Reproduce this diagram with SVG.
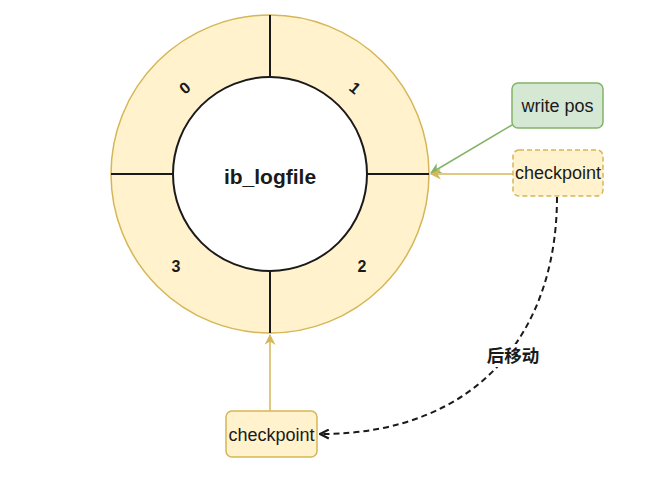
<svg xmlns="http://www.w3.org/2000/svg" width="655" height="484" viewBox="0 0 655 484">
<style>
.lbl{font-family:"Liberation Sans",Arial,sans-serif;font-size:18px;fill:#1a1a1a;text-anchor:middle;dominant-baseline:central}
.num{font-family:"Liberation Sans",Arial,sans-serif;font-size:16px;font-weight:bold;fill:#1a1a1a;text-anchor:middle;dominant-baseline:central}
.div{stroke:#1a1a1a;stroke-width:2;fill:none}
</style>
<defs>
<marker id="ay" viewBox="0 0 10 10" refX="9" refY="5" markerWidth="11" markerHeight="11" markerUnits="userSpaceOnUse" orient="auto"><path d="M0,0 L10,5 L0,10 L3,5 Z" fill="#d6b656"/></marker>
<marker id="ag" viewBox="0 0 10 10" refX="9" refY="5" markerWidth="11" markerHeight="11" markerUnits="userSpaceOnUse" orient="auto"><path d="M0,0 L10,5 L0,10 L3,5 Z" fill="#82b366"/></marker>
<marker id="ak" viewBox="0 0 10 10" refX="9" refY="5" markerWidth="11" markerHeight="11" markerUnits="userSpaceOnUse" orient="auto"><path d="M1,1 L9,5 L1,9" fill="none" stroke="#1a1a1a" stroke-width="2"/></marker>
</defs>
<rect width="655" height="484" fill="#ffffff"/>
<g id="ring">
<circle cx="270" cy="174" r="159" fill="#fff2cc" stroke="#d6b656" stroke-width="1.5"/>
<line class="div" x1="270" y1="15" x2="270" y2="77"/>
<line class="div" x1="270" y1="271" x2="270" y2="333"/>
<line class="div" x1="111" y1="174" x2="173" y2="174"/>
<line class="div" x1="367" y1="174" x2="429" y2="174"/>
<circle cx="270" cy="174" r="97" fill="#ffffff" stroke="#1a1a1a" stroke-width="2"/>
<text class="lbl" x="270" y="176" style="font-weight:bold;font-size:21px">ib_logfile</text>
<text class="num" x="185" y="88" transform="rotate(-40 185 88)">0</text>
<text class="num" x="355" y="88" transform="rotate(40 355 88)">1</text>
<text class="num" x="362" y="266">2</text>
<text class="num" x="176" y="266">3</text>
</g>
<g id="writepos">
<rect x="512" y="83" width="91" height="45" rx="6" fill="#d5e8d4" stroke="#82b366" stroke-width="1.5"/>
<text class="lbl" x="557.5" y="105.5">write pos</text>
</g>
<g id="checkpoint-right">
<rect x="513" y="150" width="90" height="46" rx="6" fill="#fff2cc" stroke="#d6b656" stroke-width="1.5" stroke-dasharray="5 3"/>
<text class="lbl" x="558" y="173">checkpoint</text>
</g>
<g id="checkpoint-bottom">
<rect x="226" y="411" width="91" height="46" rx="6" fill="#fff2cc" stroke="#d6b656" stroke-width="1.5"/>
<text class="lbl" x="271.5" y="435">checkpoint</text>
</g>
<g id="connectors">
<line x1="512" y1="125" x2="431" y2="173" stroke="#82b366" stroke-width="1.5" marker-end="url(#ag)"/>
<line x1="513" y1="174" x2="431" y2="174" stroke="#d6b656" stroke-width="1.5" marker-end="url(#ay)"/>
<line x1="270" y1="411" x2="270" y2="335" stroke="#d6b656" stroke-width="1.5" marker-end="url(#ay)"/>
<path d="M557,197 C557,330 480,434 320,434" fill="none" stroke="#1a1a1a" stroke-width="2" stroke-dasharray="6 4" marker-end="url(#ak)"/>
<rect x="484" y="344" width="60" height="23" fill="#ffffff"/>
<text class="lbl" x="513" y="356" style="font-weight:bold;font-size:17.5px;font-family:'Liberation Sans','Noto Sans CJK SC',sans-serif">后移动</text>
</g>
</svg>
